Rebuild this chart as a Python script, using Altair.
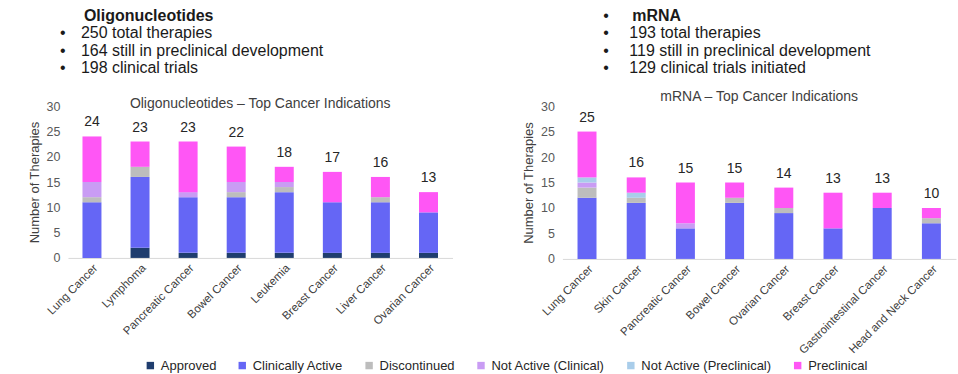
import altair as alt
import pandas as pd

statuses = ["Approved", "Clinically Active", "Discontinued",
            "Not Active (Clinical)", "Not Active (Preclinical)", "Preclinical"]
status_colors = ["#1f3d6e", "#6566f5", "#bdbdbd", "#c99cf4", "#a9cdea", "#ff56f5"]

# Oligonucleotides
oligo_cats = ["Lung Cancer", "Lymphoma", "Pancreatic Cancer", "Bowel Cancer",
              "Leukemia", "Breast Cancer", "Liver Cancer", "Ovarian Cancer"]
oligo_approved = [0, 2, 1, 1, 1, 1, 1, 1]
oligo_active = [11, 14, 11, 11, 12, 10, 10, 8]
oligo_discont = [1, 2, 0, 1, 1, 0, 1, 0]
oligo_na_clin = [3, 0, 1, 2, 1, 0, 0, 0]
oligo_na_pre = [0, 0, 0, 0, 0, 0, 0, 0]
oligo_precl = [9, 5, 10, 7, 3, 6, 4, 4]

# mRNA
mrna_cats = ["Lung Cancer", "Skin Cancer", "Pancreatic Cancer", "Bowel Cancer",
             "Ovarian Cancer", "Breast Cancer", "Gastrointestinal Cancer",
             "Head and Neck Cancer"]
mrna_approved = [0, 0, 0, 0, 0, 0, 0, 0]
mrna_active = [12, 11, 6, 11, 9, 6, 10, 7]
mrna_discont = [2, 1, 0, 1, 1, 0, 0, 1]
mrna_na_clin = [1, 0, 1, 0, 0, 0, 0, 0]
mrna_na_pre = [1, 1, 0, 0, 0, 0, 0, 0]
mrna_precl = [9, 3, 8, 3, 4, 7, 3, 2]

oligo_head = "Oligonucleotides"
oligo_lines = ["250 total therapies", "164 still in preclinical development",
               "198 clinical trials"]
mrna_head = "mRNA"
mrna_lines = ["193 total therapies", "119 still in preclinical development",
              "129 clinical trials initiated"]
oligo_chart_title = "Oligonucleotides \u2013 Top Cancer Indications"
mrna_chart_title = "mRNA \u2013 Top Cancer Indications"
y_ticks = [0, 5, 10, 15, 20, 25, 30]

FONT = "Liberation Sans"
color_scale = alt.Scale(domain=statuses, range=status_colors)


def long_df(cats, series):
    rows = []
    for i, c in enumerate(cats):
        for j, s in enumerate(statuses):
            rows.append({"cat": c, "status": s, "ord": j, "value": series[j][i]})
    return pd.DataFrame(rows)


def text_mark(txt, x, y, size=16, weight="normal", align="left", color="#1a1a1a"):
    return alt.Chart(pd.DataFrame({"t": [txt]})).mark_text(
        fontSize=size, fontWeight=weight, align=align, baseline="middle",
        color=color, font=FONT
    ).encode(x=alt.value(x), y=alt.value(y), text="t:N")


def panel(cats, series, width, height, chart_title, title_y, head, lines,
          head_bullet, bullet_x, text_x, head_y):
    df = long_df(cats, series)
    totals = [sum(s[i] for s in series) for i in range(len(cats))]
    tdf = pd.DataFrame({"cat": cats, "total": totals})
    step = width / 8.0
    pi = 1 - 19.0 / step
    po = pi / 2
    xscale = alt.Scale(paddingInner=pi, paddingOuter=po)
    xaxis = alt.Axis(labelAngle=-45, labelFontSize=11.5,
                     labelColor="#404040", ticks=False,
                     domainColor="#d9d9d9", labelPadding=4,
                     labelFont=FONT)
    yscale = alt.Scale(domain=[0, 30], nice=False)
    yaxis = alt.Axis(values=y_ticks, grid=False, domain=False,
                     ticks=False, title="Number of Therapies",
                     titleFontSize=13, titleFontWeight="normal",
                     titleColor="#404040", labelFontSize=12.5,
                     labelColor="#595959", labelPadding=8,
                     labelOverlap=False, labelFlush=False,
                     titlePadding=5, labelFont=FONT, titleFont=FONT)
    bars = alt.Chart(df).mark_bar(size=19).encode(
        x=alt.X("cat:N", sort=cats, title=None, scale=xscale, axis=xaxis),
        y=alt.Y("value:Q", stack="zero", scale=yscale, axis=yaxis),
        color=alt.Color("status:N", scale=color_scale, legend=None),
        order=alt.Order("ord:Q", sort="ascending"),
    )
    labels = alt.Chart(tdf).mark_text(dy=-14, fontSize=14, color="#262626",
                                      baseline="middle", font=FONT).encode(
        x=alt.X("cat:N", sort=cats, title=None, scale=xscale, axis=xaxis),
        y=alt.Y("total:Q", scale=yscale, axis=yaxis),
        text="total:Q")
    layers = [bars, labels,
              text_mark(chart_title, width / 2, title_y, size=14, align="center",
                        color="#404040")]
    if head_bullet:
        layers.append(text_mark("\u2022", bullet_x, head_y, size=16))
    layers.append(text_mark(head, text_x + 3, head_y, size=16, weight="bold"))
    for i, ln in enumerate(lines):
        yy = head_y + 17.3 * (i + 1)
        layers.append(text_mark("\u2022", bullet_x, yy, size=16))
        layers.append(text_mark(ln, text_x, yy, size=16))
    return alt.layer(*layers).properties(width=width, height=height)


left = panel(oligo_cats,
             [oligo_approved, oligo_active, oligo_discont, oligo_na_clin,
              oligo_na_pre, oligo_precl],
             385, 152, oligo_chart_title, -2, oligo_head, oligo_lines, False,
             -8, 13, -90)
right = panel(mrna_cats,
              [mrna_approved, mrna_active, mrna_discont, mrna_na_clin,
               mrna_na_pre, mrna_precl],
              394, 153, mrna_chart_title, -9, mrna_head, mrna_lines, True,
              41, 67, -90)

legend_chart = alt.Chart(pd.DataFrame({"status": statuses})).mark_square(
    opacity=0, size=1
).encode(
    color=alt.Color("status:N", scale=color_scale,
                    legend=alt.Legend(orient="none", legendX=76, legendY=2,
                                      direction="horizontal", title=None,
                                      symbolType="square", symbolSize=55,
                                      symbolStrokeWidth=0, labelFontSize=13,
                                      labelColor="#262626", columnPadding=19,
                                      labelFont=FONT, labelLimit=300))
).properties(width=1, height=1)

rows = alt.hconcat(alt.vconcat(left), alt.vconcat(right), spacing=70)

chart = alt.vconcat(rows, legend_chart, spacing=0).resolve_scale(
    color="independent"
).properties(
    padding={"left": 28, "top": 8, "right": 2, "bottom": 2},
    background="white",
).configure(font=FONT).configure_view(strokeWidth=0)

chart.save("out.html", embed_options={"renderer": "svg", "actions": False})
